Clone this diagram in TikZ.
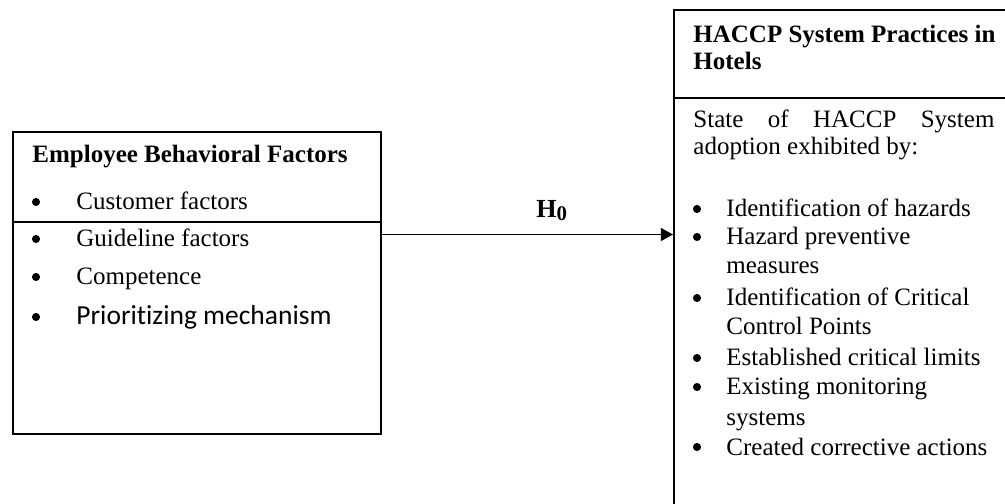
\documentclass[tikz,border=0pt]{standalone}
\usepackage{fontspec}
\setmainfont{Liberation Serif}
\newfontfamily\calib[Ligatures={NoCommon,NoContextual}]{Carlito}
\usetikzlibrary{arrows.meta}
\begin{document}
\begin{tikzpicture}[x=0.48pt,y=-0.48pt,
  box/.style={draw, line width=0.75pt, rectangle, inner sep=0pt, anchor=north west},
  txt/.style={anchor=base west, inner sep=0pt, font=\fontsize{12}{14}\selectfont},
  hd/.style={anchor=base west, inner sep=0pt, font=\fontsize{12}{14}\selectfont\bfseries},
  bul/.style={circle, fill=black, inner sep=0pt, minimum size=3.9pt},
  rule/.style={line width=0.6pt},
  conn/.style={line width=0.6pt, -{Triangle[length=5.8pt,width=6.2pt]}}]
\useasboundingbox (0,0) rectangle (1005,504);
\clip (0,0) rectangle (1005,504);
% boxes
\node[box, minimum width={368*0.48pt}, minimum height={302*0.48pt}] (lbox) at (12,131) {};
\node[box, minimum width={360*0.48pt}, minimum height={520*0.48pt}] (rbox) at (673,9) {};
\draw[rule] (lbox.west |- 0,222) -- (lbox.east |- 0,222);
\draw[rule] (rbox.west |- 0,98) -- (rbox.east |- 0,98);
% left box text
\node[hd] (lh) at (32,163) {Employee Behavioral Factors};
\node[bul] (lb1) at (36,202) {};
\node[txt] (l1) at (76,210) {Customer factors};
\node[bul] (lb2) at (36,239) {};
\node[txt] (l2) at (76,247) {Guideline factors};
\node[bul] (lb3) at (36,277) {};
\node[txt] (l3) at (76,285) {Competence};
\node[bul] (lb4) at (36,317) {};
\node[txt, font=\fontsize{13.2}{15}\calib] (l4) at (76,325) {Prioritizing mechanism};
% right box text
\node[hd] (rh1) at (693,43) {HACCP System Practices in};
\node[hd] (rh2) at (693,70) {Hotels};
\node[txt] (rs1) at (693,128) {\makebox[144.5pt][s]{State of HACCP System}};
\node[txt] (rs2) at (693,155) {adoption exhibited by:};
\node[bul] (rb1) at (697,209) {};
\node[txt] (r1) at (726,217) {Identification of hazards};
\node[bul] (rb2) at (697,237) {};
\node[txt] (r2) at (726,245) {Hazard preventive};
\node[txt] (r2b) at (726,274) {measures};
\node[bul] (rb3) at (697,298) {};
\node[txt] (r3) at (726,306) {Identification of Critical};
\node[txt] (r3b) at (726,335) {Control Points};
\node[bul] (rb4) at (697,358) {};
\node[txt] (r4) at (726,366) {Established critical limits};
\node[bul] (rb5) at (697,387) {};
\node[txt] (r5) at (726,395) {Existing monitoring};
\node[txt] (r5b) at (726,425) {systems};
\node[bul] (rb6) at (697,447) {};
\node[txt] (r6) at (726,455) {Created corrective actions};
% connector
\coordinate (ay) at (0,234.5);
\draw[conn] (lbox.east |- ay) -- (rbox.west |- ay);
\node[anchor=base west, inner sep=0pt, font=\fontsize{12.5}{14}\selectfont\bfseries] (h0) at (536,218) {H\raisebox{-1.2pt}{\fontsize{10}{11}\selectfont 0}};
\end{tikzpicture}
\end{document}
